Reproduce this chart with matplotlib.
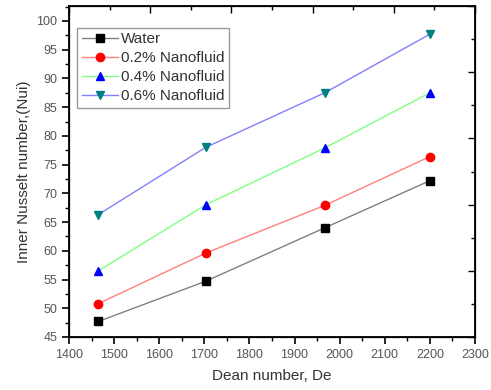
import matplotlib
matplotlib.use("Agg")
import matplotlib.pyplot as plt
from matplotlib.ticker import MultipleLocator

plt.rcParams['font.family'] = ['Liberation Sans', 'DejaVu Sans']

dean = [1465, 1703, 1967, 2200]
water = [47.7, 54.7, 64.0, 72.2]
nf_02 = [50.8, 59.6, 67.9, 76.4]
nf_04 = [56.5, 68.0, 77.9, 87.5]
nf_06 = [66.3, 78.0, 87.5, 97.7]

series = [
    ('Water', water, '#808080', 's', 'black'),
    ('0.2% Nanofluid', nf_02, '#ff8080', 'o', 'red'),
    ('0.4% Nanofluid', nf_04, '#80ff80', '^', 'blue'),
    ('0.6% Nanofluid', nf_06, '#8080ff', 'v', '#008080'),
]

fig = plt.figure(figsize=(4.91, 3.90), dpi=100)
ax = fig.add_axes([0.1405, 0.1359, 0.8269, 0.8487])

for name, vals, lc, mk, mc in series:
    ax.plot(dean, vals, color=lc, lw=1.0, marker=mk, markersize=6,
            markerfacecolor=mc, markeredgecolor=mc, label=name)

ax.set_xlim(1400, 2300)
ax.set_ylim(45, 102.6)
ax.xaxis.set_major_locator(MultipleLocator(100))
ax.xaxis.set_minor_locator(MultipleLocator(50))
ax.yaxis.set_major_locator(MultipleLocator(5))
ax.yaxis.set_minor_locator(MultipleLocator(2.5))
ax.set_yticks([45, 50, 55, 60, 65, 70, 75, 80, 85, 90, 95, 100])
ax.tick_params(which='major', direction='out', length=5, width=1.2,
               labelsize=9, labelcolor='#555555')
ax.tick_params(which='minor', direction='out', length=3, width=1.0)
ax.set_xlabel('Dean number, De', fontsize=11, color='#333333', labelpad=6)
ax.set_ylabel('Inner Nusselt number,(Nui)', fontsize=11, color='#333333')
for s in ax.spines.values():
    s.set_linewidth(1.3)

# top and right frame ticks (own spacing, no labels)
top = ax.twiny()
top.set_xlim(0, 5)
top.xaxis.set_major_locator(MultipleLocator(1))
top.xaxis.set_minor_locator(MultipleLocator(0.5))
top.tick_params(which='major', direction='in', length=5, width=1.0, labeltop=False)
top.tick_params(which='minor', direction='in', length=3, width=1.0)
right = ax.twinx()
right.set_ylim(0, 5)
right.yaxis.set_major_locator(MultipleLocator(1))
right.yaxis.set_minor_locator(MultipleLocator(0.5))
right.tick_params(which='major', direction='in', length=5, width=1.0, labelright=False)
right.tick_params(which='minor', direction='in', length=3, width=1.0)

leg = ax.legend(loc='upper left', bbox_to_anchor=(0.02, 0.934), fontsize=11,
                frameon=True, fancybox=False, edgecolor='#808080',
                handlelength=2.35, handletextpad=0.2, borderpad=0.3,
                labelspacing=0.32, borderaxespad=0)
leg.get_frame().set_linewidth(1.0)
for t in leg.get_texts():
    t.set_color('#333333')

fig.savefig('out.png', dpi=100)
